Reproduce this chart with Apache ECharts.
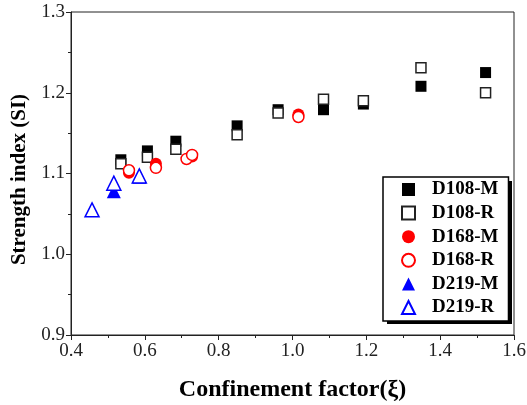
<!DOCTYPE html>
<html>
<head>
<meta charset="utf-8">
<script src="https://cdn.jsdelivr.net/npm/echarts@6/dist/echarts.min.js"></script>
<style>
  html, body { margin: 0; padding: 0; background: #fff; }
  #chart { width: 527px; height: 405px; }
</style>
</head>
<body>
<div id="chart"></div>
<script>
// Strength index versus confinement factor, measured (M) and regression (R)
const seriesNames = ['D108-M', 'D108-R', 'D168-M', 'D168-R', 'D219-M', 'D219-R'];

const d108M = [[0.535, 1.117], [0.607, 1.128], [0.684, 1.140], [0.850, 1.159], [0.961, 1.179],
               [1.084, 1.179], [1.192, 1.186], [1.348, 1.208], [1.523, 1.225]];
const d108R = [[0.535, 1.112], [0.607, 1.120], [0.684, 1.130], [0.850, 1.148], [0.961, 1.175],
               [1.084, 1.192], [1.192, 1.190], [1.348, 1.231], [1.523, 1.200]];
const d168M = [[0.557, 1.101], [0.630, 1.112], [0.728, 1.121], [1.016, 1.173]];
const d168R = [[0.557, 1.104], [0.630, 1.107], [0.713, 1.118], [0.728, 1.123], [1.016, 1.170]];
const d219M = [[0.516, 1.078], [0.585, 1.096]];
const d219R = [[0.457, 1.055], [0.516, 1.088], [0.585, 1.097]];

const xTicks = [0.4, 0.6, 0.8, 1.0, 1.2, 1.4, 1.6];
const yTicks = [0.9, 1.0, 1.1, 1.2, 1.3];

const SERIF = 'Liberation Serif';

function filled(name, data, symbol, color, size) {
  return {
    name, type: 'scatter', data, symbol, symbolSize: size, z: 3,
    itemStyle: { color, borderColor: color, borderWidth: 0, opacity: 1 }
  };
}
function hollow(name, data, symbol, color, size) {
  return {
    name, type: 'scatter', data, symbol, symbolSize: size, z: 3,
    itemStyle: { color: '#fff', borderColor: color, borderWidth: 1.5, opacity: 1 }
  };
}

const chart = echarts.init(document.getElementById('chart'), null, { renderer: 'canvas' });

const axisCommon = {
  nameLocation: 'middle',
  axisLine: { show: true, lineStyle: { color: '#222', width: 1 } },
  axisTick: { show: true, inside: false, length: 5, lineStyle: { color: '#222' } },
  minorTick: { show: true, splitNumber: 2, length: 3, lineStyle: { color: '#222' } },
  splitLine: { show: false }
};

chart.setOption({
  animation: false,
  backgroundColor: '#fff',
  textStyle: { fontFamily: SERIF },
  grid: {
    left: 71, right: 13, top: 12, bottom: 70,
    outerBoundsMode: 'none', containLabel: false,
    show: true, borderColor: '#222', borderWidth: 1, backgroundColor: 'transparent'
  },
  xAxis: Object.assign({}, axisCommon, {
    type: 'value', min: xTicks[0], max: xTicks[xTicks.length - 1], interval: 0.2,
    name: 'Confinement factor(ξ)', nameGap: 43,
    nameTextStyle: { fontFamily: SERIF, fontWeight: 'bold', fontSize: 24, color: '#000' },
    axisLabel: {
      fontFamily: SERIF, fontSize: 19, color: '#222', margin: 7,
      formatter: v => v.toFixed(1)
    }
  }),
  yAxis: Object.assign({}, axisCommon, {
    type: 'value', min: yTicks[0], max: yTicks[yTicks.length - 1], interval: 0.1,
    name: 'Strength index (SI)', nameGap: 33,
    nameTextStyle: {
      fontFamily: SERIF, fontWeight: 'bold', fontSize: 21, color: '#000',
      padding: [0, 12, 0, 0]
    },
    axisLabel: {
      fontFamily: SERIF, fontSize: 19, color: '#222', margin: 6,
      formatter: v => v.toFixed(1)
    }
  }),
  legend: {
    data: seriesNames,
    orient: 'vertical',
    left: 383, top: 177, z: 10,
    itemWidth: 13, itemHeight: 13, itemGap: 4.6,
    padding: [3, 10, 4, 18],
    backgroundColor: '#fff',
    borderColor: '#000', borderWidth: 1.5,
    textStyle: {
      fontFamily: SERIF, fontWeight: 'bold', fontSize: 19, color: '#000',
      lineHeight: 18, padding: [0, 0, 0, 12]
    }
  },
  // solid drop shadow behind the legend frame
  graphic: [{
    type: 'rect', z: 9, left: 387, top: 181,
    shape: { width: 125, height: 143 },
    style: { fill: '#000' }
  }],
  series: [
    filled('D108-M', d108M, 'rect', '#000', 11),
    hollow('D108-R', d108R, 'rect', '#222', 10),
    filled('D168-M', d168M, 'circle', '#ff0000', 12),
    hollow('D168-R', d168R, 'circle', '#ff0000', 11),
    filled('D219-M', d219M, 'triangle', '#0000ff', 14),
    hollow('D219-R', d219R, 'triangle', '#0000ff', 14)
  ]
});
</script>
</body>
</html>
